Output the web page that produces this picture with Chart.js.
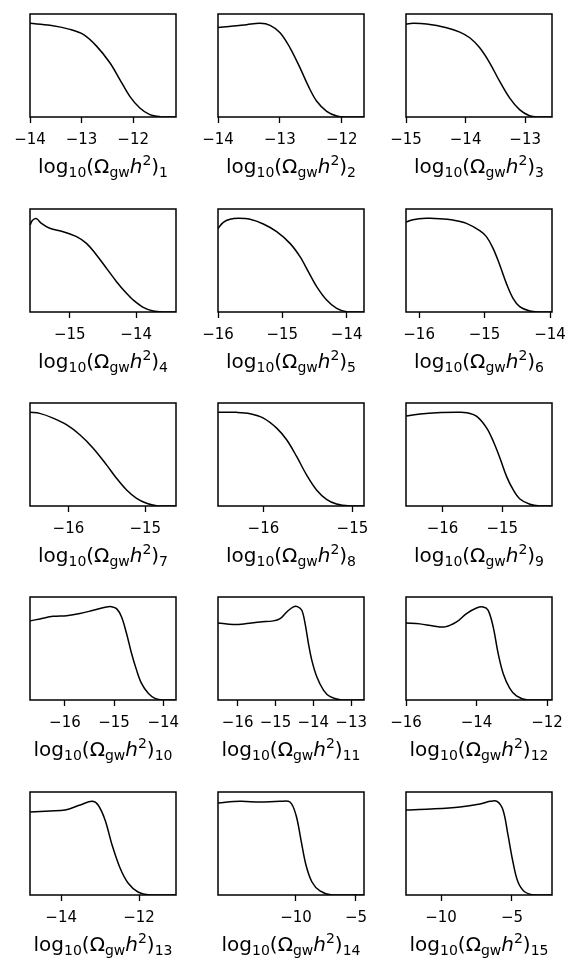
<!DOCTYPE html>
<html>
<head>
<meta charset="utf-8">
<script src="https://cdn.jsdelivr.net/npm/chart.js@4.4.1/dist/chart.umd.min.js"></script>
<style>
  body { margin: 0; background: #fff; }
  #fig { position: relative; width: 581px; height: 972px; overflow: hidden; }
  #fig canvas { position: absolute; }
</style>
</head>
<body>
<div id="fig"></div>
<script>
// posterior densities of log10(Omega_gw h^2) per bin, normalised to peak 1
const x1 = [-14, -13.613, -13.226, -12.968, -12.71, -12.452, -12.258, -12.065, -11.871, -11.677, -11.484, -11.174];
const y1 = [1.0, 0.979, 0.936, 0.882, 0.757, 0.579, 0.4, 0.221, 0.096, 0.025, 0.004, 0];
const x2 = [-14, -13.752, -13.536, -13.321, -13.159, -12.997, -12.836, -12.674, -12.539, -12.404, -12.243, -12.081, -11.919, -11.639];
const y2 = [0.957, 0.971, 0.986, 1.0, 0.979, 0.9, 0.739, 0.525, 0.329, 0.168, 0.061, 0.011, 0, 0];
const x3 = [-15, -14.877, -14.655, -14.32, -14.097, -13.93, -13.763, -13.596, -13.429, -13.262, -13.095, -12.928, -12.76, -12.554];
const y3 = [0.993, 1.0, 0.993, 0.954, 0.907, 0.846, 0.739, 0.579, 0.382, 0.204, 0.079, 0.014, 0, 0];
const x4 = [-15.598, -15.568, -15.523, -15.492, -15.427, -15.302, -15.101, -14.899, -14.749, -14.598, -14.447, -14.296, -14.146, -14.045, -13.894, -13.744, -13.593, -13.402];
const y4 = [0.929, 0.975, 0.997, 0.993, 0.947, 0.894, 0.858, 0.805, 0.733, 0.609, 0.466, 0.324, 0.199, 0.128, 0.05, 0.011, 0, 0];
const x5 = [-16, -15.917, -15.813, -15.684, -15.503, -15.295, -15.088, -14.881, -14.725, -14.596, -14.466, -14.311, -14.155, -14.0, -13.731];
const y5 = [0.893, 0.958, 0.99, 1.0, 0.99, 0.94, 0.858, 0.733, 0.591, 0.431, 0.271, 0.128, 0.039, 0.004, 0];
const x6 = [-16.204, -16.092, -15.888, -15.684, -15.481, -15.277, -15.074, -14.972, -14.87, -14.768, -14.667, -14.565, -14.463, -14.31, -14.158, -13.969];
const y6 = [0.958, 0.986, 1.0, 0.997, 0.982, 0.947, 0.869, 0.805, 0.68, 0.502, 0.306, 0.146, 0.057, 0.011, 0, 0];
const x7 = [-16.5, -16.374, -16.2, -16.026, -15.852, -15.678, -15.504, -15.374, -15.243, -15.113, -14.983, -14.852, -14.6];
const y7 = [1.0, 0.989, 0.939, 0.868, 0.761, 0.618, 0.439, 0.296, 0.171, 0.082, 0.029, 0.004, 0];
const x8 = [-16.507, -16.299, -16.149, -16.0, -15.851, -15.739, -15.627, -15.515, -15.403, -15.291, -15.179, -15.03, -14.873];
const y8 = [1.0, 1.0, 0.986, 0.939, 0.832, 0.707, 0.529, 0.332, 0.171, 0.071, 0.021, 0, 0];
const x9 = [-16.606, -16.372, -16.094, -15.761, -15.594, -15.428, -15.261, -15.15, -15.039, -14.928, -14.817, -14.706, -14.539, -14.372, -14.167];
const y9 = [0.961, 0.982, 0.996, 1.0, 0.996, 0.957, 0.832, 0.689, 0.511, 0.314, 0.171, 0.075, 0.018, 0, 0];
const x10 = [-16.705, -16.508, -16.237, -15.966, -15.695, -15.424, -15.153, -15.051, -14.949, -14.847, -14.746, -14.644, -14.542, -14.441, -14.305, -14.169, -14.0, -13.742];
const y10 = [0.845, 0.866, 0.894, 0.901, 0.923, 0.958, 0.994, 0.997, 0.976, 0.887, 0.71, 0.497, 0.319, 0.177, 0.071, 0.018, 0, 0];
const x11 = [-16.521, -16.115, -15.762, -15.409, -15.056, -14.879, -14.703, -14.526, -14.42, -14.305, -14.217, -14.129, -14.041, -13.908, -13.732, -13.555, -13.29, -12.655];
const y11 = [0.823, 0.806, 0.816, 0.834, 0.845, 0.869, 0.94, 0.994, 0.997, 0.958, 0.816, 0.603, 0.426, 0.248, 0.106, 0.035, 0.004, 0];
const x12 = [-16, -15.604, -15.226, -14.896, -14.566, -14.283, -14.0, -13.811, -13.67, -13.528, -13.387, -13.245, -13.057, -12.868, -12.585, -11.858];
const y12 = [0.823, 0.813, 0.791, 0.781, 0.834, 0.923, 0.983, 0.994, 0.958, 0.781, 0.497, 0.284, 0.124, 0.043, 0.004, 0];
const x13 = [-14.795, -14.282, -13.897, -13.513, -13.205, -13.051, -12.872, -12.692, -12.487, -12.282, -12.026, -11.718, -11.051];
const y13 = [0.886, 0.897, 0.908, 0.961, 1.0, 0.961, 0.801, 0.534, 0.288, 0.128, 0.032, 0, 0];
const x14 = [-16.5, -14.667, -13.0, -11.333, -10.5, -10.0, -9.583, -9.167, -8.667, -8.0, -7.0, -4.333];
const y14 = [0.983, 1.0, 0.993, 1.0, 0.993, 0.854, 0.587, 0.32, 0.139, 0.043, 0, 0];
const x15 = [-12.465, -10.775, -8.662, -7.254, -6.549, -6.056, -5.634, -5.282, -4.93, -4.577, -4.085, -3.38, -2.183];
const y15 = [0.908, 0.918, 0.94, 0.972, 1.0, 1.0, 0.908, 0.641, 0.352, 0.139, 0.032, 0, 0];

const xLimits = [
  [-14, -11.17], [-14, -11.64], [-15, -12.55],
  [-15.6, -13.4], [-16, -13.73], [-16.2, -13.97],
  [-16.5, -14.6], [-16.51, -14.87], [-16.61, -14.17],
  [-16.71, -13.74], [-16.52, -12.66], [-16, -11.86],
  [-14.8, -11.05], [-16.5, -4.33], [-12.47, -2.18]
];
const tickValues = [
  [-14, -13, -12], [-14, -13, -12], [-15, -14, -13],
  [-15, -14], [-16, -15, -14], [-16, -15, -14],
  [-16, -15], [-16, -15], [-16, -15],
  [-16, -15, -14], [-16, -15, -14, -13], [-16, -14, -12],
  [-14, -12], [-10, -5], [-10, -5]
];

const xs = [x1, x2, x3, x4, x5, x6, x7, x8, x9, x10, x11, x12, x13, x14, x15];
const ys = [y1, y2, y3, y4, y5, y6, y7, y8, y9, y10, y11, y12, y13, y14, y15];

// panel grid
const colLeft = [30, 218, 406];
const rowTop = [14, 209, 403, 597, 792];
const boxW = 146, boxH = 103;
const padL = 30, padR = 30, padT = 6, axisH = 80;

const framePlugin = {
  id: 'frame',
  afterDatasetsDraw(chart) {
    const { ctx, chartArea: a } = chart;
    ctx.save();
    ctx.strokeStyle = '#000';
    ctx.lineWidth = 1.5;
    ctx.strokeRect(a.left, a.top, a.right - a.left, a.bottom - a.top);
    ctx.restore();
  }
};

// axis label log10(Ω_gw h^2)_n with sub/superscripts
const mathTitle = {
  id: 'mathTitle',
  afterDraw(chart, args, opts) {
    const { ctx, chartArea: a } = chart;
    const fam = '"DejaVu Sans", sans-serif';
    const parts = [
      { t: 'log', s: 20, dy: 0 },
      { t: '10', s: 14, dy: 4 },
      { t: '(Ω', s: 20, dy: 0 },
      { t: 'gw', s: 14, dy: 4 },
      { t: 'h', s: 20, dy: 0, it: true },
      { t: '2', s: 14, dy: -8 },
      { t: ')', s: 20, dy: 0 },
      { t: opts.sub, s: 14, dy: 4 }
    ];
    ctx.save();
    ctx.fillStyle = '#000';
    ctx.textBaseline = 'alphabetic';
    let total = 0;
    parts.forEach(p => {
      ctx.font = (p.it ? 'italic ' : '') + p.s + 'px ' + fam;
      p.w = ctx.measureText(p.t).width;
      total += p.w;
    });
    let x = (a.left + a.right) / 2 - total / 2;
    const base = a.bottom + 56;
    parts.forEach(p => {
      ctx.font = (p.it ? 'italic ' : '') + p.s + 'px ' + fam;
      ctx.fillText(p.t, x, base + p.dy);
      x += p.w;
    });
    ctx.restore();
  }
};

const fig = document.getElementById('fig');

xs.forEach((xv, i) => {
  const r = Math.floor(i / 3), c = i % 3;
  const canvas = document.createElement('canvas');
  canvas.width = boxW + padL + padR;
  canvas.height = padT + boxH + axisH;
  canvas.style.left = (colLeft[c] - padL) + 'px';
  canvas.style.top = (rowTop[r] - padT) + 'px';
  fig.appendChild(canvas);

  const ticks = tickValues[i];
  new Chart(canvas.getContext('2d'), {
    type: 'line',
    data: {
      datasets: [{
        data: xv.map((x, k) => ({ x: x, y: ys[i][k] })),
        borderColor: '#000',
        borderWidth: 1.5,
        pointRadius: 0,
        fill: false,
        tension: 0.35
      }]
    },
    options: {
      responsive: false,
      animation: false,
      events: [],
      layout: { padding: { left: padL, right: padR, top: padT, bottom: 0 } },
      plugins: {
        legend: { display: false },
        tooltip: { enabled: false },
        mathTitle: { sub: String(i + 1) }
      },
      scales: {
        x: {
          type: 'linear',
          min: xLimits[i][0],
          max: xLimits[i][1],
          border: { display: false },
          grid: { drawOnChartArea: false, drawTicks: true, tickLength: 6, tickWidth: 1.3, tickColor: '#000' },
          ticks: {
            color: '#000',
            font: { family: '"DejaVu Sans", sans-serif', size: 15 },
            padding: 8,
            maxRotation: 0,
            autoSkip: false,
            callback: v => (v < 0 ? '\u2212' : '') + Math.abs(v)
          },
          afterBuildTicks: s => { s.ticks = ticks.map(v => ({ value: v })); },
          afterFit: s => { s.height = axisH; }
        },
        y: { display: false, min: 0, max: 1.1 }
      }
    },
    plugins: [framePlugin, mathTitle]
  });
});
</script>
</body>
</html>
